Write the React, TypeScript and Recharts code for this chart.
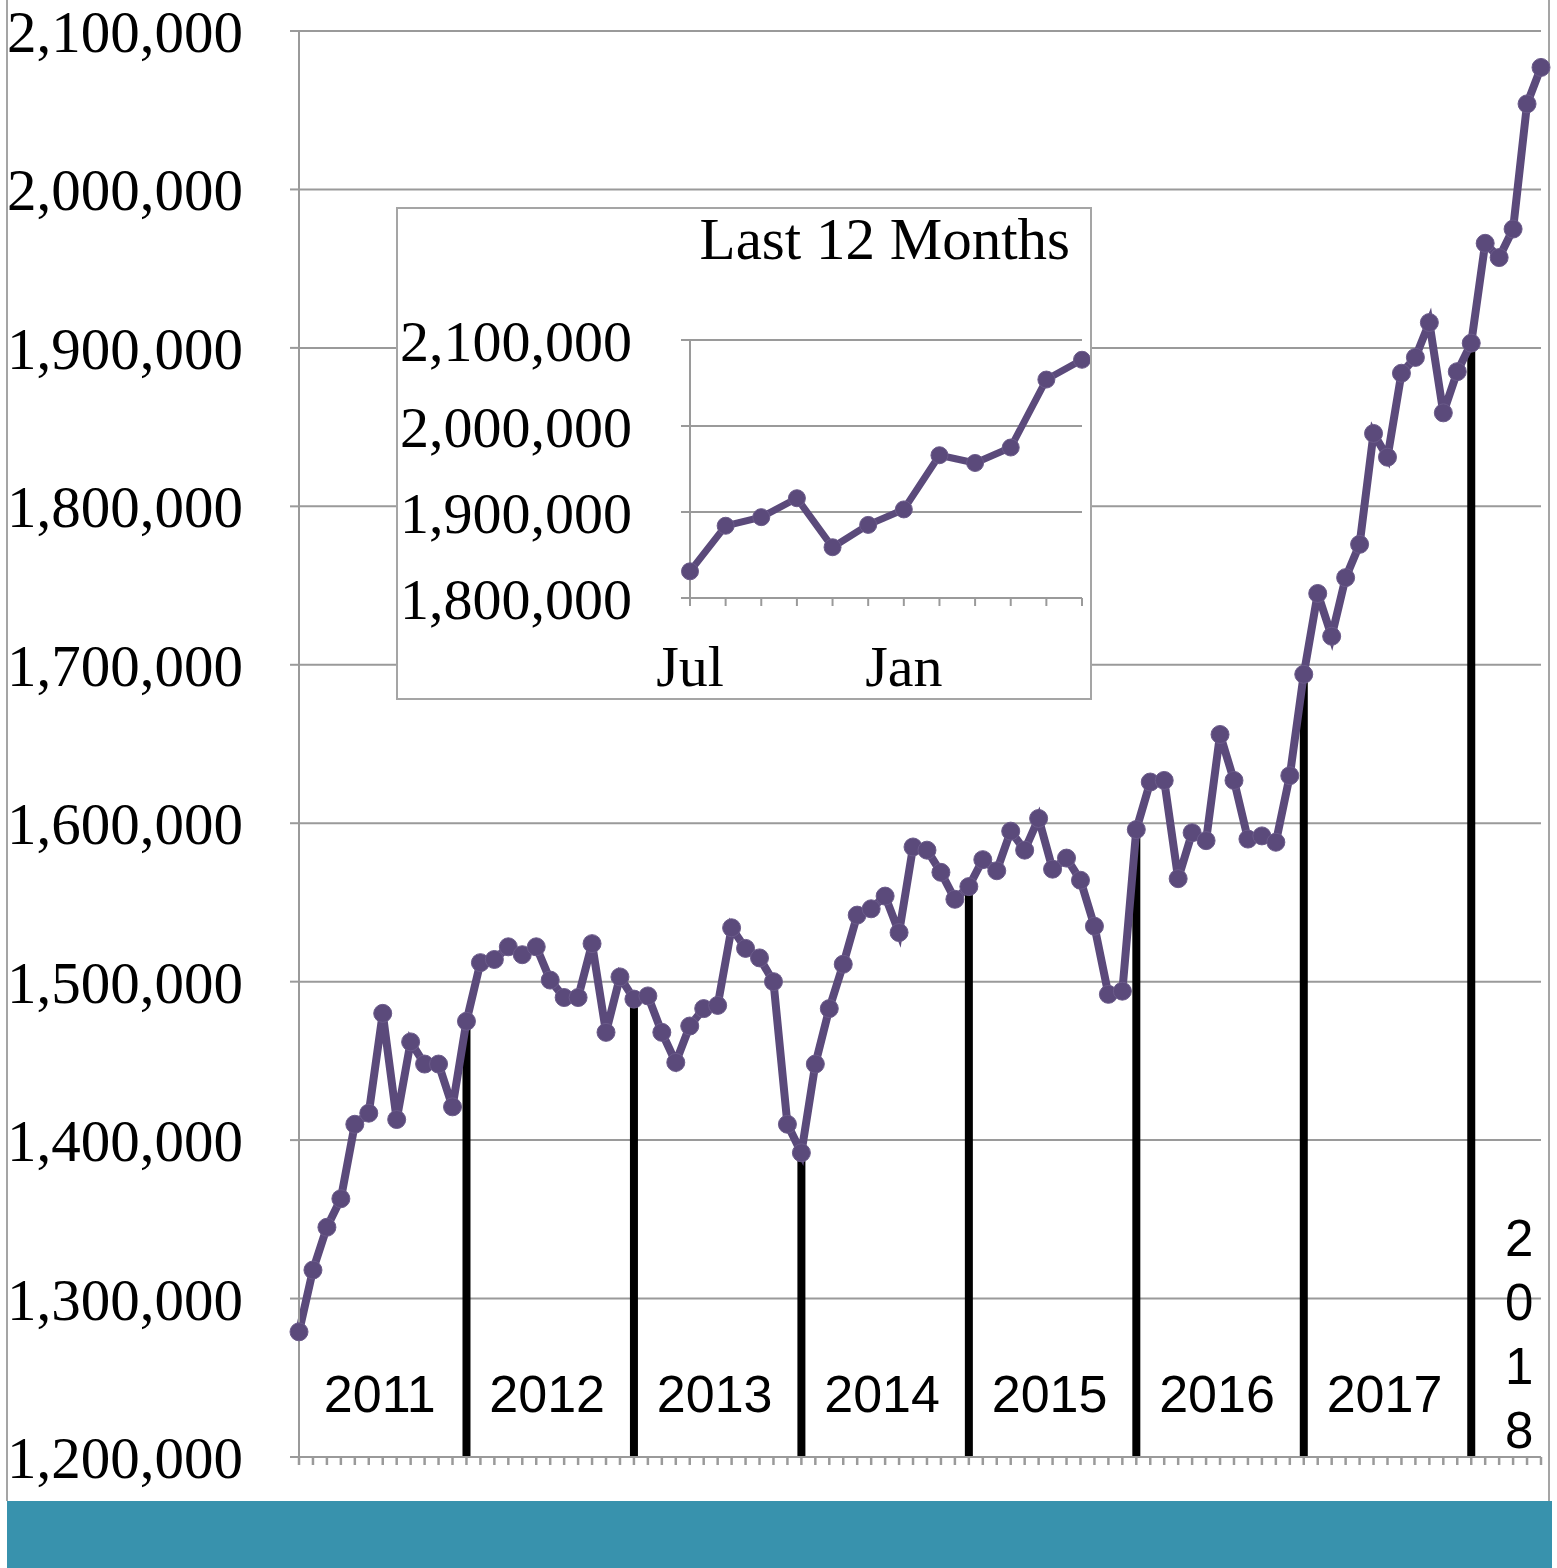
import { ComposedChart, LineChart, Line, Bar, XAxis, YAxis, CartesianGrid } from 'recharts';

// monthly totals, Jan 2011 .. Jun 2018
const monthlyTotals = [
  1279000, 1318000, 1345000, 1363000, 1410000, 1417000, 1480000, 1413000, 1462000, 1448000, 1448000, 1421000,
  1475000, 1512000, 1514000, 1522000, 1517000, 1522000, 1501000, 1490000, 1490000, 1524000, 1468000, 1503000,
  1489000, 1491000, 1468000, 1449000, 1472000, 1483000, 1485000, 1534000, 1521000, 1515000, 1500000, 1410000,
  1392000, 1448000, 1483000, 1511000, 1542000, 1546000, 1554000, 1531000, 1585000, 1583000, 1569000, 1552000,
  1560000, 1577000, 1570000, 1595000, 1583000, 1603000, 1571000, 1578000, 1564000, 1535000, 1492000, 1494000,
  1596000, 1626000, 1627000, 1565000, 1594000, 1589000, 1656000, 1627000, 1590000, 1592000, 1588000, 1630000,
  1694000, 1745000, 1718000, 1755000, 1776000, 1846000, 1831000, 1884000, 1894000, 1916000, 1859000, 1885000,
  1903000, 1966000, 1957000, 1975000, 2054000, 2077000,
];

const yearLabels = ['2011', '2012', '2013', '2014', '2015', '2016', '2017', '2018'];
const mainYTicks = [1200000, 1300000, 1400000, 1500000, 1600000, 1700000, 1800000, 1900000, 2000000, 2100000];

const insetMonths = ['Jul', 'Aug', 'Sep', 'Oct', 'Nov', 'Dec', 'Jan', 'Feb', 'Mar', 'Apr', 'May', 'Jun'];
const insetShownLabels = ['Jul', 'Jan'];
const insetYTicks = [1800000, 1900000, 2000000, 2100000];

const PURPLE = '#5b4a7b';
const GRID = '#9a9a9a';
const SERIF = '"Liberation Serif", "Times New Roman", Times, serif';
const SANS = '"Liberation Sans", Arial, Helvetica, sans-serif';

const PLOT_TOP = 31;
const PLOT_BOTTOM = 1457;
const CHART_H = 1500;

const lastIdx = monthlyTotals.length - 1;
const mainData = monthlyTotals.map((v, i) => ({
  i,
  v,
  jan: i > 0 && i % 12 === 0 ? v : null,
}));
const monthTicks = mainData.map((d) => d.i);
const yearCenters = yearLabels.map((_, k) => (k * 12 + Math.min(k * 12 + 12, monthlyTotals.length)) / 2);

const insetData = insetMonths.map((m, k) => ({
  m,
  v: monthlyTotals[monthlyTotals.length - insetMonths.length + k],
}));

const fmt = (v: number) => v.toLocaleString('en-US');

const YearTick = (props: any) => {
  const { x, index } = props;
  const label = yearLabels[index];
  if (!label) return null;
  const partial = (index + 1) * 12 > monthlyTotals.length;
  if (partial) {
    // not enough room for a short year, so stack the digits
    return (
      <text textAnchor="middle" fontFamily={SANS} fontSize={51} fill="#000">
        {label.split('').map((ch, k) => (
          <tspan key={k} x={x + 6} y={PLOT_BOTTOM - 9 - (label.length - 1 - k) * 64}>
            {ch}
          </tspan>
        ))}
      </text>
    );
  }
  return (
    <text x={x - 3} y={PLOT_BOTTOM - 45} textAnchor="middle" fontFamily={SANS} fontSize={52} fill="#000">
      {label}
    </text>
  );
};

export default function App() {
  return (
    <div style={{ position: 'absolute', left: 0, top: 0, width: 1557, height: 1568, background: '#fff', overflow: 'hidden' }}>
      {/* slide frame + footer band */}
      <div style={{ position: 'absolute', left: 6, top: 0, width: 1544, height: 1501, borderLeft: '2px solid #a5a5a5', borderRight: '2px solid #a5a5a5', boxSizing: 'border-box' }} />
      <div style={{ position: 'absolute', left: 7, top: 1501, width: 1545, height: 67, background: '#3892ad' }} />

      <div style={{ position: 'absolute', left: 0, top: 0 }}>
        <ComposedChart
          width={1557}
          height={CHART_H}
          data={mainData}
          margin={{ top: PLOT_TOP, right: 16, left: 0, bottom: 0 }}
        >
          <CartesianGrid vertical={false} stroke={GRID} strokeWidth={2} />
          <XAxis
            dataKey="i"
            type="number"
            domain={[0, lastIdx]}
            ticks={monthTicks}
            interval={0}
            tickFormatter={() => ''}
            tickSize={8}
            height={CHART_H - PLOT_BOTTOM - 1}
            axisLine={{ stroke: GRID, strokeWidth: 2 }}
            tickLine={{ stroke: GRID, strokeWidth: 2.5 }}
          />
          <XAxis
            xAxisId="yr"
            dataKey="i"
            type="number"
            domain={[0, lastIdx]}
            ticks={yearCenters}
            interval={0}
            height={1}
            tickSize={0}
            axisLine={false}
            tickLine={false}
            tick={<YearTick />}
          />
          <YAxis
            type="number"
            domain={[1200000, 2100000]}
            ticks={mainYTicks}
            interval={0}
            width={299}
            tickSize={9}
            tickMargin={47}
            tickFormatter={fmt}
            tick={{ fontFamily: SERIF, fontSize: 59, fill: '#000' }}
            axisLine={{ stroke: GRID, strokeWidth: 2 }}
            tickLine={{ stroke: GRID, strokeWidth: 2 }}
          />
          <Bar dataKey="jan" barSize={8} fill="#000" isAnimationActive={false} />
          <Line
            dataKey="v"
            stroke={PURPLE}
            strokeWidth={8}
            dot={{ r: 9, fill: PURPLE, stroke: '#6b5b8a', strokeWidth: 1 }}
            activeDot={false}
            isAnimationActive={false}
          />
        </ComposedChart>
      </div>

      {/* inset: last 12 months */}
      <div style={{ position: 'absolute', left: 396, top: 207, width: 696, height: 493, border: '2px solid #a5a5a5', boxSizing: 'border-box', background: '#fff' }}>
        <div style={{ position: 'absolute', right: 20, top: 1, fontFamily: SERIF, fontSize: 59, lineHeight: '58px', color: '#000', whiteSpace: 'nowrap' }}>
          Last 12 Months
        </div>
        <LineChart width={692} height={489} data={insetData} margin={{ top: 131, right: 8, left: 0, bottom: 0 }}>
          <CartesianGrid vertical={false} stroke={GRID} strokeWidth={2} />
          <XAxis
            dataKey="m"
            interval={0}
            height={100}
            tickSize={8}
            tickMargin={39}
            tickFormatter={(v: string) => (insetShownLabels.includes(v) ? v : '')}
            tick={{ fontFamily: SERIF, fontSize: 58, fill: '#000' }}
            axisLine={{ stroke: GRID, strokeWidth: 2 }}
            tickLine={{ stroke: GRID, strokeWidth: 2 }}
          />
          <YAxis
            type="number"
            domain={[1800000, 2100000]}
            ticks={insetYTicks}
            interval={0}
            width={292}
            tickSize={9}
            tickMargin={49}
            tickFormatter={fmt}
            tick={{ fontFamily: SERIF, fontSize: 58, fill: '#000' }}
            axisLine={{ stroke: GRID, strokeWidth: 2 }}
            tickLine={{ stroke: GRID, strokeWidth: 2 }}
          />
          <Line
            dataKey="v"
            stroke={PURPLE}
            strokeWidth={7}
            dot={{ r: 8.5, fill: PURPLE, stroke: '#6b5b8a', strokeWidth: 1 }}
            activeDot={false}
            isAnimationActive={false}
          />
        </LineChart>
      </div>
    </div>
  );
}
